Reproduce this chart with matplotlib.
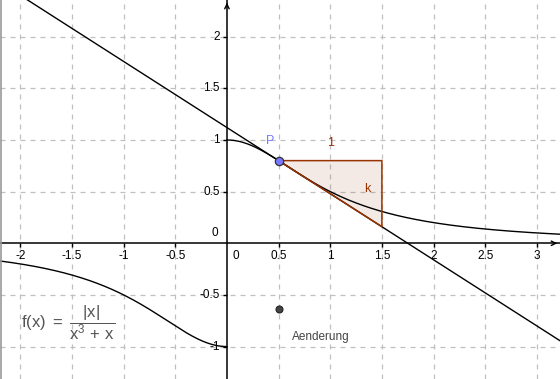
import numpy as np
import matplotlib.pyplot as plt
from matplotlib.lines import Line2D

# -----------------------------
# Data
# -----------------------------
x_ticks = [-2, -1.5, -1, -0.5, 0.5, 1, 1.5, 2, 2.5, 3]
x_labels = ["-2", "-1.5", "-1", "-0.5", "0.5", "1", "1.5", "2", "2.5", "3"]
y_ticks = [-1, -0.5, 0.5, 1, 1.5, 2]
y_labels = ["-1", "-0.5", "0.5", "1", "1.5", "2"]

p_x = 0.5          # point P on the graph
p_y = 0.8
slope_k = -0.64    # slope of tangent at P
step = 1.0         # horizontal side of the slope triangle


def f(x):
    # function written on the chart: f(x) = |x| / (x^3 + x)
    return np.abs(x) / (x ** 3 + x)


xmin, xmax = -2.197, 3.224
ymin, ymax = -1.314, 2.355

brown = "#993300"
blue = "#7777ff"
grid_col = "#c0c0c0"

plt.rcParams['font.family'] = ['Liberation Sans', 'DejaVu Sans']
plt.rcParams['mathtext.fontset'] = 'custom'
plt.rcParams['mathtext.rm'] = 'Liberation Sans'
plt.rcParams['mathtext.it'] = 'Liberation Sans'

fig = plt.figure(figsize=(5.6, 3.79), dpi=100)
ax = fig.add_axes([0, 0, 1, 1])
ax.set_xlim(xmin, xmax)
ax.set_ylim(ymin, ymax)

# grid
for gx in np.arange(-2, 3.01, 0.5):
    if gx != 0:
        ax.axvline(gx, color=grid_col, lw=0.9, ls=(0, (4, 4)), zorder=0)
for gy in np.arange(-1, 2.01, 0.5):
    if gy != 0:
        ax.axhline(gy, color=grid_col, lw=0.9, ls=(0, (4, 4)), zorder=0)

# axes through origin
for s in ["top", "right"]:
    ax.spines[s].set_visible(False)
ax.spines["left"].set_position(("data", 0))
ax.spines["bottom"].set_position(("data", 0))
ax.spines["left"].set_linewidth(1.1)
ax.spines["bottom"].set_linewidth(1.1)
ax.set_xticks(x_ticks)
ax.set_yticks(y_ticks)
ax.tick_params(direction="out", length=3, width=1, labelbottom=False, labelleft=False)

ax.annotate("", xy=(xmax, 0), xytext=(xmax - 0.08, 0),
            arrowprops=dict(arrowstyle="->", lw=1.0, color="black", mutation_scale=8))
ax.annotate("", xy=(0, ymax), xytext=(0, ymax - 0.08),
            arrowprops=dict(arrowstyle="->", lw=1.0, color="black", mutation_scale=8))

# tick labels
for t, lab in zip(x_ticks, x_labels):
    ax.annotate(lab, (t, 0), xytext=(0, -5), textcoords="offset points",
                ha="center", va="top", fontsize=8.5)
for t, lab in zip(y_ticks, y_labels):
    ax.annotate(lab, (0, t), xytext=(-5, 0), textcoords="offset points",
                ha="right", va="center", fontsize=8.5)
ax.annotate("0", (0, 0), xytext=(4, -5), textcoords="offset points",
            ha="left", va="top", fontsize=8.5)
ax.annotate("0", (0, 0), xytext=(-6, 3), textcoords="offset points",
            ha="right", va="bottom", fontsize=8.5)

# function graph
xs_neg = np.linspace(xmin, -1e-4, 400)
xs_pos = np.linspace(1e-4, xmax, 400)
ax.plot(xs_neg, f(xs_neg), color="black", lw=1.0, zorder=3)
ax.plot(xs_pos, f(xs_pos), color="black", lw=1.0, zorder=3)

# tangent at P
xt = np.array([xmin, xmax])
ax.plot(xt, p_y + slope_k * (xt - p_x), color="black", lw=1.0, zorder=3)

# slope triangle
tri_x = [p_x, p_x + step, p_x + step, p_x]
tri_y = [p_y, p_y, p_y + slope_k * step, p_y]
ax.fill(tri_x, tri_y, color=brown, alpha=0.1, lw=0, zorder=2)
ax.plot(tri_x, tri_y, color=brown, lw=1.1, zorder=4)
ax.text(p_x + step / 2, p_y + 0.17, "1", color=brown, fontsize=9, ha="center", va="center")
ax.text(p_x + step - 0.14, p_y + slope_k * step / 2 + 0.05, "k", color=brown,
        fontsize=9, ha="center", va="center")

# point P
ax.plot([p_x], [p_y], "o", ms=6, mfc=blue, mec="#333333", mew=0.9, zorder=6)
ax.text(p_x - 0.08, p_y + 0.19, "P", color=blue, fontsize=9, ha="center", va="center")

# change point (x, slope)
ax.plot([p_x], [slope_k], "o", ms=5, mfc="#444444", mec="#222222", mew=0.8, zorder=6)
ax.text(p_x + 0.13, slope_k - 0.27, "Aenderung", color="#444444", fontsize=8.5,
        ha="left", va="center")

# formula
ax.text(-1.99, -0.765,
        r"$\mathrm{f(x)}\ =\ \dfrac{|\mathrm{x}|}{\mathrm{x}^3\,+\,\mathrm{x}}$",
        color="#555555", fontsize=12, ha="left", va="center")

# left frame line
fig.add_artist(Line2D([0.001, 0.001], [0, 1], color="#999999", lw=1.2,
                      transform=fig.transFigure))

fig.savefig("out.png", dpi=100)
